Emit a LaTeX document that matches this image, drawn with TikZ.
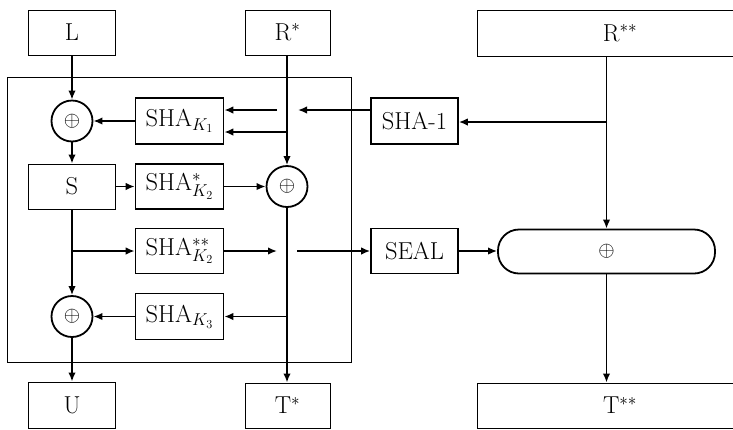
\documentclass[tikz,border=0pt]{standalone}
\usepackage{fix-cm}
\usetikzlibrary{arrows.meta}
\begin{document}
\begin{tikzpicture}[x=1pt,y=-1pt,
  txt/.style={font=\fontsize{24.5}{28}\selectfont},
  thinbox/.style={draw, line width=1pt, inner sep=0pt, txt},
  shabox/.style={draw, line width=1.7pt, inner sep=0pt, minimum width=88pt, minimum height=45pt, txt},
  xorc/.style={circle, draw, line width=1.8pt, minimum size=41pt, inner sep=0pt, font=\fontsize{21}{24}\selectfont},
  arr/.style={line width=1.7pt, -{Latex[length=9pt,width=7.5pt]}}]
\clip (0,0) rectangle (733,429);
\useasboundingbox (0,0) rectangle (733,429);
% frame
\draw[line width=1pt] (7,77) rectangle (351,362);
% top boxes
\node[thinbox, minimum width=87pt, minimum height=45pt] (L) at (72,32.5) {L};
\node[thinbox, minimum width=85pt, minimum height=45pt] (Rs) at (287.5,32.5) {R$^{*}$};
\node[thinbox, minimum width=286pt, minimum height=46pt] (Rss) at (620,33) {R$^{**}$};
% inner
\node[xorc] (x1) at (72,121) {$\oplus$};
\node[shabox, minimum height=46pt] (k1) at (179.5,121) {SHA$_{K_1}$};
\node[shabox, minimum width=87pt, minimum height=46pt] (sha1) at (414.5,121) {SHA-1};
\node[thinbox, minimum width=87pt, minimum height=45pt] (S) at (72,186.5) {S};
\node[shabox] (k2s) at (179.5,186.5) {SHA$^{*}_{K_2}$};
\node[xorc] (x2) at (287,186.5) {$\oplus$};
\node[shabox] (k2ss) at (179.5,251) {SHA$^{**}_{K_2}$};
\node[shabox, minimum width=87pt] (seal) at (414.5,251) {SEAL};
\node[draw, line width=1.8pt, rounded corners=21pt, minimum width=217pt, minimum height=44pt, inner sep=0pt, font=\fontsize{21}{24}\selectfont] (rnd) at (606.5,251.5) {$\oplus$};
\node[xorc] (x3) at (72,316.5) {$\oplus$};
\node[shabox, minimum height=46pt] (k3) at (179.5,316.5) {SHA$_{K_3}$};
% bottom boxes
\node[thinbox, minimum width=87pt, minimum height=46pt] (U) at (72,405) {U};
\node[thinbox, minimum width=85pt, minimum height=45pt] (Ts) at (287.5,405.5) {T$^{*}$};
\node[thinbox, minimum width=286pt, minimum height=45pt] (Tss) at (620,405.5) {T$^{**}$};
% coordinates
\coordinate (j1) at (287,132);
\coordinate (g1) at (298,110);
\coordinate (g2) at (277,110);
\coordinate (j2) at (607,122);
\coordinate (j3) at (72,251);
\coordinate (g3) at (277,251);
\coordinate (g4) at (297,251);
\coordinate (j4) at (287,316.5);
% connectors
\draw[arr] (L.south) -- (x1.north);
\draw[arr] (x1.south) -- (S.north);
\draw[arr] (k1.west) -- (x1.east);
\draw[arr] (Rs.south -| x2.north) -- (x2.north);
\draw[arr] (j1) -- (j1 -| k1.east);
\draw[arr] (sha1.west |- g1) -- (g1);
\draw[arr] (g2) -- (g2 -| k1.east);
\draw[arr] (rnd.north |- Rss.south) -- (rnd.north);
\draw[arr] (j2) -- (sha1.east |- j2);
\draw[arr] (seal.east) -- (seal.east -| rnd.west);
\draw[arr] (rnd.south) -- (rnd.south |- Tss.north);
\draw[arr] (S.east) -- (S.east -| k2s.west);
\draw[arr] (k2s.east) -- (x2.west);
\draw[arr] (x2.south) -- (x2.south |- Ts.north);
\draw[arr] (S.south) -- (x3.north);
\draw[arr] (j3) -- (j3 -| k2ss.west);
\draw[arr] (k2ss.east |- g3) -- (g3);
\draw[arr] (g4) -- (g4 -| seal.west);
\draw[arr] (j4) -- (j4 -| k3.east);
\draw[arr] (k3.west) -- (x3.east);
\draw[arr] (x3.south) -- (x3.south |- U.north);
\end{tikzpicture}
\end{document}
